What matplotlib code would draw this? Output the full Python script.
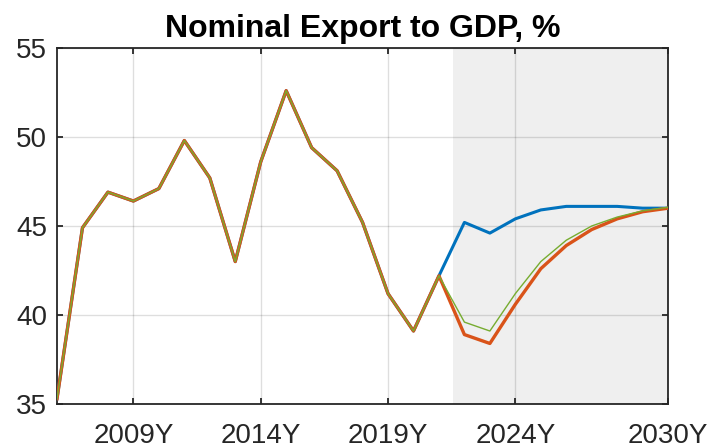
import matplotlib
matplotlib.use("Agg")
import matplotlib.pyplot as plt

years = list(range(2006, 2031))
hist = [35.3, 44.9, 46.9, 46.4, 47.1, 49.8, 47.7, 43.0, 48.6, 52.6,
        49.4, 48.1, 45.2, 41.2, 39.1, 42.2]
blue_fc = [45.2, 44.6, 45.4, 45.9, 46.1, 46.1, 46.1, 46.0, 46.0]
orange_fc = [38.9, 38.4, 40.6, 42.6, 43.9, 44.8, 45.4, 45.8, 46.0]
green_fc = [39.6, 39.1, 41.2, 43.0, 44.2, 45.0, 45.5, 45.85, 46.05]
xtick_years = [2009, 2014, 2019, 2024, 2030]
shade_start = 2021.55

plt.rcParams['font.family'] = ['Liberation Sans', 'DejaVu Sans']

fig = plt.figure(figsize=(7.1, 4.48), dpi=100)
ax = fig.add_axes([0.0803, 0.0982, 0.8607, 0.7948])

ax.axvspan(shade_start, 2030, color='#efefef', zorder=0, lw=0)

ax.plot(years, hist + blue_fc, color='#0072BD', lw=2.2, zorder=3)
ax.plot(years, hist + orange_fc, color='#D95319', lw=2.4, zorder=4)
ax.plot(years, hist + green_fc, color='#77AC30', lw=1.0, zorder=5)

ax.set_xlim(2006, 2030)
ax.set_ylim(35, 55)
ax.set_xticks(xtick_years)
ax.set_xticklabels([f"{y}Y" for y in xtick_years])
ax.set_yticks([35, 40, 45, 50, 55])

ax.grid(True, color='black', alpha=0.13, lw=1.0, zorder=1)
ax.set_axisbelow(True)
ax.tick_params(direction='in', length=4, width=1.3, top=True, right=True,
               labelsize=20, colors='#262626')
ax.tick_params(axis='x', pad=14)
ax.tick_params(axis='y', pad=7)
for s in ax.spines.values():
    s.set_color('#262626')
    s.set_linewidth(1.3)

ax.set_title('Nominal Export to GDP, %', fontsize=23, fontweight='bold', pad=8)

fig.savefig('out.png', dpi=100)
